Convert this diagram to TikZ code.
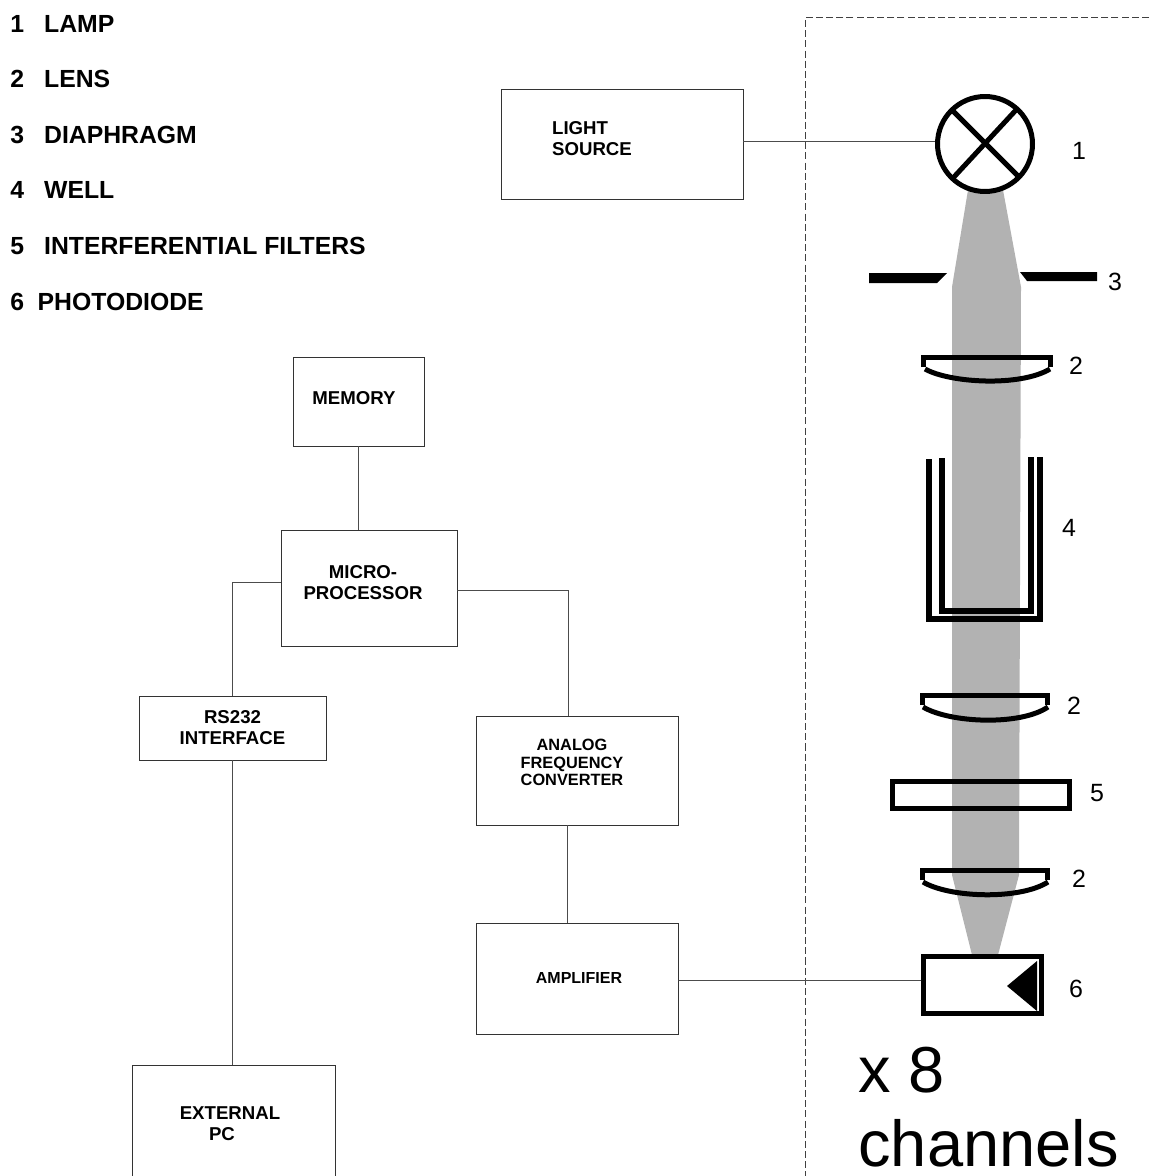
\documentclass[tikz,border=0pt]{standalone}
\usepackage{fontspec}
\setmainfont{Liberation Sans}
\usepackage{tikz}
\usetikzlibrary{positioning}

\begin{document}
\begin{tikzpicture}[x=0.02cm,y=-0.02cm]

  \tikzstyle{block}=[rectangle,draw=black!80,line width=0.5pt,inner sep=0pt,
    align=center,font=\bfseries\fontsize{10.6}{12}\selectfont]
  \tikzstyle{caption}=[inner sep=0pt,font=\bfseries\fontsize{10.6}{12}\selectfont]
  \tikzstyle{legend}=[anchor=west,inner sep=0pt,font=\bfseries\fontsize{14.1}{16}\selectfont]
  \tikzstyle{number}=[inner sep=0pt,font=\fontsize{14.2}{16}\selectfont]
  \tikzstyle{big}=[anchor=base west,inner sep=0pt,font=\fontsize{37}{40}\selectfont]
  \tikzstyle{wire}=[draw=black!70,line width=0.55pt]
  \tikzstyle{optic}=[draw=black,line width=0.1cm]

  \useasboundingbox (0,0) rectangle (1149,1176);

  %% light beam
  \fill [black!30] (968,190) -- (1003,190) -- (1021,287) -- (1019,875)
        -- (998,955) -- (972,955) -- (952,875) -- (952,287) -- cycle;

  %% housing
  \draw [black!75,line width=0.5pt,dash pattern=on 4pt off 1.8pt] (1149,17) -- (805.5,17) -- (805.5,1176);

  %% lenses
  \draw [optic] (923.5,367) -- (923.5,357) -- (1050.5,357) -- (1050.5,367);
  \draw [optic] (925,369) .. controls (950,383) and (1020,387) .. (1050,369);
  \draw [optic] (922.5,705) -- (922.5,695) -- (1047.5,695) -- (1047.5,705);
  \draw [optic] (923,707) .. controls (950,723) and (1020,726) .. (1048,707);
  \draw [optic] (922.5,880) -- (922.5,870) -- (1047.5,870) -- (1047.5,880);
  \draw [optic] (923,882) .. controls (950,898) and (1020,900) .. (1048,882);

  %% diaphragm
  \fill (869,273) -- (947,273) -- (937,283) -- (869,283) -- cycle;
  \fill (1020,272) -- (1097,272) -- (1097,281) -- (1027,281) -- cycle;

  %% well
  \draw [optic,line width=0.11cm] (929,459) -- (929,619) -- (1040,619) -- (1040,457);
  \draw [optic,line width=0.11cm] (942,458) -- (942,611) -- (1031,611) -- (1031,457);

  %% filter
  \draw [optic] (892.5,781.5) rectangle (1069.5,808.5);

  %% lamp and detector
  \node (lamp) at (985,144) [circle,optic,fill=white,minimum size=1.9cm,inner sep=0pt] {};
  \draw [optic] (952,110) -- (1019,177);
  \draw [optic] (1016,110) -- (953,178);
  \node (diode) at (982.5,985) [rectangle,optic,minimum width=2.36cm,minimum height=1.14cm,inner sep=0pt] {};
  \fill (1007,986) -- (1037,961) -- (1037,1011) -- cycle;

  %% blocks
  \node (light) at (622,144)  [block,minimum width=4.84cm,minimum height=2.2cm] {};
  \node (lightname) at (592,138.5) [caption,align=left] {LIGHT\\SOURCE};
  \node (memory) at (358.5,401.5) [block,minimum width=2.62cm,minimum height=1.78cm] {};
  \node (memoryname) at (354,398) [caption] {MEMORY};
  \node (micro) at (369,588) [block,minimum width=3.52cm,minimum height=2.32cm] {};
  \node (microname) at (363,582.5) [caption,align=center] {MICRO-\\PROCESSOR};
  \node (rs232) at (232.5,728) [block,minimum width=3.74cm,minimum height=1.28cm]
        {RS232\\INTERFACE};
  \node (analog) at (577,770.5) [block,minimum width=4.04cm,minimum height=2.18cm] {};
  \node (analogname) at (572,762.5) [caption,align=center,font=\bfseries\fontsize{9.3}{10}\selectfont]
        {ANALOG\\FREQUENCY\\CONVERTER};
  \node (amp) at (577,978.5) [block,minimum width=4.04cm,minimum height=2.22cm] {};
  \node (ampname) at (579,978) [caption,font=\bfseries\fontsize{9.1}{10}\selectfont] {AMPLIFIER};
  \node (pc) at (233.5,1125) [block,minimum width=4.06cm,minimum height=2.4cm] {};
  \node (pcname) at (230,1124) [caption,align=center] {EXTERNAL\\PC\rule{0.32cm}{0pt}};

  \path [wire] ([yshift=0.06cm]light.east) edge ([yshift=0.06cm]lamp.west)
        (memory.south) edge (memory.south |- micro.north)
        (rs232.south) edge (rs232.south |- pc.north)
        ([xshift=-0.2cm]analog.south) edge ([xshift=-0.2cm]amp.north)
        ([yshift=-0.04cm]amp.east) edge ([yshift=0.09cm]diode.west);
  \draw [wire] ([yshift=0.12cm]micro.west) -| (rs232.north);
  \draw [wire] ([yshift=-0.04cm]micro.east) -| ([xshift=-0.18cm]analog.north);

  %% part numbers
  \node (part1) [number] at (1079,151) {1};
  \node (part3) [number] at (1115,282) {3};
  \node (part2a) [number] at (1076,366) {2};
  \node (part4) [number] at (1069,528) {4};
  \node (part2b) [number] at (1074,706) {2};
  \node (part5) [number] at (1097,793) {5};
  \node (part2c) [number] at (1079,879) {2};
  \node (part6) [number] at (1076,989) {6};

  %% legend
  \node (lamp key) [legend] at (10,24)  {1\hspace{0.4cm}LAMP};
  \node (lens key) [legend] at (10,79)  {2\hspace{0.4cm}LENS};
  \node (stop key) [legend] at (10,135) {3\hspace{0.4cm}DIAPHRAGM};
  \node (well key) [legend] at (10,190) {4\hspace{0.4cm}WELL};
  \node (filter key) [legend] at (10,246) {5\hspace{0.4cm}INTERFERENTIAL FILTERS};
  \node (diode key) [legend] at (10,302) {6\hspace{0.27cm}PHOTODIODE};

  \node (times) [big] at (858,1092) {x 8};
  \node (channels) [big] at (858,1166) {channels};

\end{tikzpicture}
\end{document}
